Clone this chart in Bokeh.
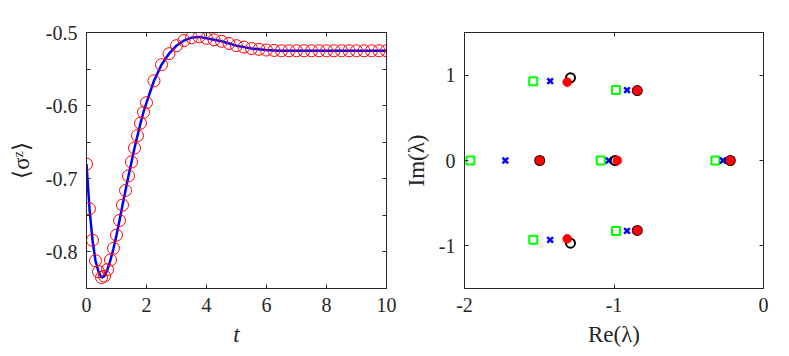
from bokeh.plotting import figure
from bokeh.layouts import row
from bokeh.models import LinearAxis, FixedTicker, Range1d
from bokeh.embed import file_html
from bokeh.resources import INLINE

# ---- left panel data: <sigma^z>(t) ----
t_vals = [0.0, 0.1, 0.2, 0.3, 0.4, 0.5, 0.6, 0.7, 0.8, 0.9, 1.0, 1.1, 1.2, 1.3, 1.4,
          1.5, 1.6, 1.7, 1.8, 1.9, 2.0, 2.25, 2.5, 2.75, 3.0, 3.25, 3.5, 3.75, 4.0,
          4.25, 4.5, 4.75, 5.0, 5.25, 5.5, 5.75, 6.0, 6.25, 6.5, 6.75, 7.0, 7.25,
          7.5, 7.75, 8.0, 8.25, 8.5, 8.75, 9.0, 9.25, 9.5, 9.75, 10.0]
sz_vals = [-0.680, -0.741, -0.784, -0.812, -0.827, -0.835, -0.833, -0.824, -0.811,
           -0.795, -0.777, -0.757, -0.736, -0.716, -0.696, -0.677, -0.658, -0.641,
           -0.624, -0.609, -0.596, -0.566, -0.544, -0.529, -0.518, -0.511, -0.507,
           -0.506, -0.508, -0.510, -0.512, -0.515, -0.518, -0.520, -0.522, -0.523,
           -0.524, -0.5245, -0.525, -0.525, -0.525, -0.525, -0.525, -0.525, -0.525,
           -0.525, -0.525, -0.525, -0.525, -0.525, -0.525, -0.525, -0.525]
t_ticks = [0, 2, 4, 6, 8, 10]
t_labels = ["0", "2", "4", "6", "8", "10"]
sz_ticks = [-0.8, -0.7, -0.6, -0.5]
sz_labels = ["-0.8", "-0.7", "-0.6", "-0.5"]
sz_minor = [-0.85, -0.75, -0.65, -0.55]

# ---- right panel data: eigenvalues ----
green_re = [-1.54, -0.987, -1.96, -1.089, -0.322, -1.54, -0.987]
green_im = [0.93, 0.825, 0.0, 0.0, 0.0, -0.93, -0.825]
blue_re = [-1.427, -0.913, -1.727, -1.035, -0.271, -1.427, -0.913]
blue_im = [0.93, 0.825, 0.0, 0.0, 0.0, -0.93, -0.825]
black_re = [-1.291, -0.844, -1.497, -0.993, -0.222, -1.291, -0.844]
black_im = [0.969, 0.82, 0.0, 0.0, 0.0, -0.969, -0.82]
red_re = [-1.313, -0.844, -1.497, -0.978, -0.222, -1.313, -0.844]
red_im = [0.918, 0.82, 0.0, 0.0, 0.0, -0.918, -0.82]
re_ticks = [-2, -1, 0]
re_labels = ["-2", "-1", "0"]
im_ticks = [-1, 0, 1]
im_labels = ["-1", "0", "1"]

FONT = "Liberation Serif"
AX = "#262626"


def style_axis(ax, ticks, labels=None, minor=None):
    ax.ticker = FixedTicker(ticks=ticks, minor_ticks=minor or [])
    ax.axis_line_color = AX
    ax.axis_line_width = 1
    ax.major_tick_line_color = AX
    ax.minor_tick_line_color = AX
    ax.major_tick_in = 4
    ax.major_tick_out = 0
    ax.minor_tick_in = 4
    ax.minor_tick_out = 0
    ax.major_label_text_font = FONT
    ax.major_label_text_font_size = "20px"
    ax.major_label_text_color = AX
    ax.major_label_standoff = 9
    if labels is None:
        ax.major_label_overrides = {tk: "" for tk in ticks}
        ax.major_label_standoff = 0
    else:
        ax.major_label_overrides = {tk: lb for tk, lb in zip(ticks, labels)}
    ax.axis_label_text_font = FONT
    ax.axis_label_text_font_size = "23px"
    ax.axis_label_text_color = AX
    ax.axis_label_text_font_style = "normal"
    ax.axis_label_standoff = 7


def make_fig(width, mbl, mbr, xr, yr, xt, xl, yt, yl, xlabel, ylabel, yminor=None):
    p = figure(width=width, height=354, output_backend="svg", toolbar_location=None,
               x_range=Range1d(*xr), y_range=Range1d(*yr),
               x_axis_type=None, y_axis_type=None,
               min_border_left=mbl, min_border_right=mbr,
               min_border_top=32, min_border_bottom=66)
    p.outline_line_color = AX
    p.outline_line_width = 1
    p.background_fill_color = "white"
    p.border_fill_color = "white"
    bottom = LinearAxis(axis_label=xlabel)
    left = LinearAxis(axis_label=ylabel)
    top = LinearAxis()
    right = LinearAxis()
    style_axis(bottom, xt, xl)
    style_axis(left, yt, yl, yminor)
    style_axis(top, xt)
    style_axis(right, yt, None, yminor)
    p.add_layout(bottom, "below")
    p.add_layout(left, "left")
    p.add_layout(top, "above")
    p.add_layout(right, "right")
    return p, bottom, left


p1, b1, l1 = make_fig(400, 86, 14, (0, 10), (-0.85, -0.5), t_ticks, t_labels,
                      sz_ticks, sz_labels, "t", "⟨σᶻ⟩", yminor=sz_minor)
b1.axis_label_text_font_style = "italic"
l1.axis_label_standoff = 9
p1.line(t_vals, sz_vals, line_color="#0000ff", line_width=2.5)
p1.scatter(t_vals, sz_vals, marker="circle", size=12, fill_color=None,
           line_color="#ff0000", line_width=1)

p2, b2, l2 = make_fig(373, 63, 10, (-2, 0), (-1.5, 1.5), re_ticks, re_labels,
                      im_ticks, im_labels, "Re(λ)", "Im(λ)")
p2.scatter(green_re, green_im, marker="square", size=8, fill_color=None,
           line_color="#00ff00", line_width=2)
p2.scatter(blue_re, blue_im, marker="x", size=8, line_color="#0000ff", line_width=2.5)
p2.scatter(black_re, black_im, marker="circle", size=9, fill_color=None,
           line_color="black", line_width=2)
p2.scatter(red_re, red_im, marker="circle", size=9, fill_color="#ff0000",
           line_color="#ff0000", line_width=0.5)

layout = row(p1, p2)
open("out.html", "w").write(file_html(layout, INLINE))
